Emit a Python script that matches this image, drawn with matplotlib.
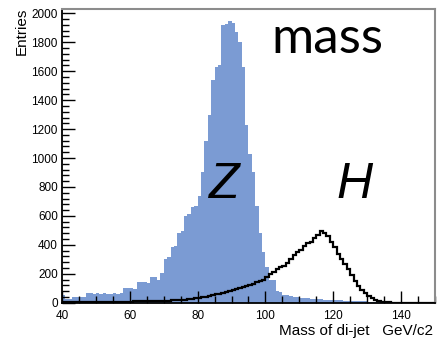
import numpy as np
import matplotlib.pyplot as plt
from matplotlib.ticker import MultipleLocator

# di-jet invariant mass, 1 GeV bins from 40 to 150
mass_lo, mass_hi, bin_width = 40, 150, 1

# Z -> qq background (filled)
z_counts = [
    50, 25, 25, 40, 40, 42, 40, 70, 70, 62,
    64, 60, 66, 62, 58, 65, 62, 68, 103, 103,
    103, 98, 145, 145, 145, 133, 175, 175, 160, 205,
    300, 315, 385, 390, 485, 495, 600, 610, 660, 670,
    735, 905, 1120, 1295, 1540, 1630, 1640, 1920, 1925, 1945,
    1935, 1870, 1800, 1630, 1230, 1030, 905, 665, 480, 350,
    250, 160, 155, 80, 75, 55, 50, 45, 42, 38,
    35, 32, 30, 28, 26, 24, 23, 22, 20, 19,
    18, 17, 16, 15, 14, 13, 12, 11, 10, 9,
    8, 7, 6, 5, 4, 3, 3, 2, 2, 2,
    1, 1, 1, 1, 0, 0, 0, 0, 0, 0,
]

# H -> bb signal (outline)
h_counts = [
    3, 2, 3, 4, 3, 4, 4, 5, 4, 5,
    5, 6, 5, 6, 7, 6, 7, 8, 7, 8,
    8, 9, 9, 10, 10, 11, 12, 12, 13, 14,
    14, 15, 16, 17, 18, 20, 22, 24, 28, 32,
    35, 38, 42, 46, 52, 58, 63, 68, 74, 80,
    86, 92, 100, 108, 118, 125, 132, 140, 150, 158,
    175, 195, 215, 230, 245, 255, 275, 300, 330, 350,
    365, 390, 410, 420, 445, 465, 495, 485, 460, 420,
    385, 340, 305, 265, 230, 190, 150, 118, 88, 65,
    45, 30, 18, 12, 7, 4, 2, 1, 1, 0,
    0, 0, 0, 0, 0, 0, 0, 0, 0, 0,
]

x_ticks = [40, 60, 80, 100, 120, 140]
y_ticks = [0, 200, 400, 600, 800, 1000, 1200, 1400, 1600, 1800, 2000]

edges = np.arange(mass_lo, mass_hi + bin_width, bin_width)

plt.rcParams['font.family'] = ['Liberation Sans', 'DejaVu Sans']

fig = plt.figure(figsize=(4.39, 3.44), dpi=100)
ax = fig.add_axes([62 / 439, 41.3 / 344, 373 / 439, 293.7 / 344])

ax.stairs(z_counts, edges, fill=True, color='#7b9bd3', lw=0)
ax.stairs(h_counts, edges, color='black', lw=1.6)

ax.set_xlim(mass_lo, mass_hi)
ax.set_ylim(0, 2030)
ax.set_xticks(x_ticks)
ax.set_yticks(y_ticks)
ax.xaxis.set_minor_locator(MultipleLocator(5))
ax.yaxis.set_minor_locator(MultipleLocator(40))
ax.tick_params(which='both', direction='in', top=False, right=False,
               labelsize=8.5, width=1.0)
ax.tick_params(which='major', length=9)
ax.tick_params(which='minor', length=5)
ax.tick_params(axis='x', which='major', pad=5)
ax.tick_params(axis='y', which='major', pad=3)

for side in ['left', 'bottom']:
    ax.spines[side].set_color('black')
    ax.spines[side].set_linewidth(1.3)
for side in ['top', 'right']:
    ax.spines[side].set_color('#8c8c8c')
    ax.spines[side].set_linewidth(1.5)

fig.text(22 / 439, 1 - 8 / 344, 'Entries', rotation=90,
         ha='center', va='top', fontsize=11)
fig.text(433 / 439, 1 - 331 / 344, 'Mass of di-jet   GeV/c2',
         ha='right', va='center', fontsize=11)

ax.text(101.6, 1726, 'mass', fontsize=37, family=['Lato', 'DejaVu Sans'],
        ha='left', va='baseline')
ax.text(83.4, 723, 'Z', fontsize=36, style='italic', ha='left', va='baseline')
ax.text(121, 723, 'H', fontsize=36, style='italic', ha='left', va='baseline')

fig.savefig('out.png', dpi=100)
